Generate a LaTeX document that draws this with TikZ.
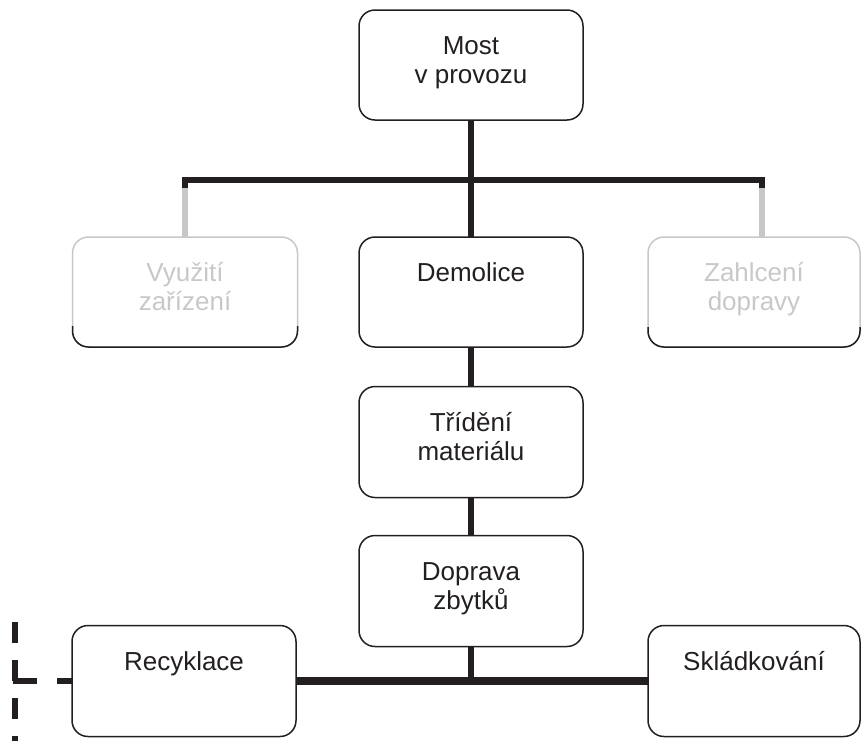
\documentclass[tikz,border=0pt]{standalone}
\usepackage{fontspec}
\setmainfont{Liberation Sans}
\usetikzlibrary{positioning, calc}
\definecolor{ink}{HTML}{231F20}
\definecolor{fade}{HTML}{C8C8C8}
\newcommand{\twolines}[2]{\rule{0pt}{25pt}#1\\#2\rule[-18pt]{0pt}{18pt}}

\begin{document}
\begin{tikzpicture}[
        x=1pt, y=-1pt,
        stage/.style={rectangle, draw=ink, line width=1.5pt, text=ink, minimum width=224pt, minimum height=110pt, rounded corners=16pt, align=center, inner sep=0pt, outer sep=0pt, font=\fontsize{26}{29}\selectfont},
        faded/.style={stage, draw=fade, text=fade},
        fadebase/.style={draw=ink, line width=1.5pt, rounded corners=16pt},
        link/.style={draw=ink, line width=6pt},
        fadelink/.style={draw=fade, line width=6pt},
        dashlink/.style={draw=ink, line width=5.5pt, dash pattern=on 21pt off 17pt}
    ]
        \useasboundingbox (0,0) rectangle (861,740);
        \node[stage] (most) at (471,65) {\twolines{Most}{v provozu}};
        \node[faded, minimum width=225pt] (vyuziti) at (185,292) {\twolines{Využití}{zařízení}};
        \node[stage] (demolice) at (471,292) {\twolines{Demolice}{}};
        \node[faded, minimum width=212pt] (zahlceni) at (754,292) {\twolines{Zahlcení}{dopravy}};
        \node[stage, minimum height=111pt] (trideni) at (471,442) {\twolines{Třídění}{materiálu}};
        \node[stage, minimum height=111pt] (doprava) at (471,591) {\twolines{Doprava}{zbytků}};
        \node[stage, minimum height=111pt] (recyklace) at (184,681) {\twolines{Recyklace}{}};
        \node[stage, minimum height=111pt, minimum width=212pt] (skladkovani) at (754,681) {\twolines{Skládkování}{}};
        % black lower edge of the faded boxes
        \draw[fadebase] ([yshift=21pt]vyuziti.south west) |- (vyuziti.south) -| ([yshift=21pt]vyuziti.south east);
        \draw[fadebase] ([yshift=20pt]zahlceni.south west) |- (zahlceni.south) -| ([yshift=20pt]zahlceni.south east);
        % top bus
        \coordinate (busL) at (185,180);
        \coordinate (busR) at (762,180);
        \draw[fadelink] ([yshift=-8pt]busL) -- (vyuziti.north);
        \draw[fadelink] ([yshift=-8pt]busR) -- (busR |- zahlceni.north);
        \draw[link] ([yshift=-8pt]busL) -- (busL) -- (busR) -- ([yshift=-8pt]busR);
        \draw[link] (most.south) -- (demolice.north);
        \draw[link] (demolice.south) -- (trideni.north);
        \draw[link] (trideni.south) -- (doprava.north);
        % bottom bus
        \draw[link] (doprava.south) -- (doprava.south |- recyklace.east);
        \draw[link, line width=8pt] (recyklace.east) -- (skladkovani.west);
        % dashed branch on the left
        \coordinate (dashtop) at (15,622);
        \coordinate (dashbot) at (15,750);
        \coordinate (dashcorner) at (13,681);
        \draw[dashlink] (dashtop) -- (dashbot);
        \draw[dashlink, dash pattern=on 24pt off 20pt] (dashcorner) -- (recyklace.west);
    \end{tikzpicture}
\end{document}
